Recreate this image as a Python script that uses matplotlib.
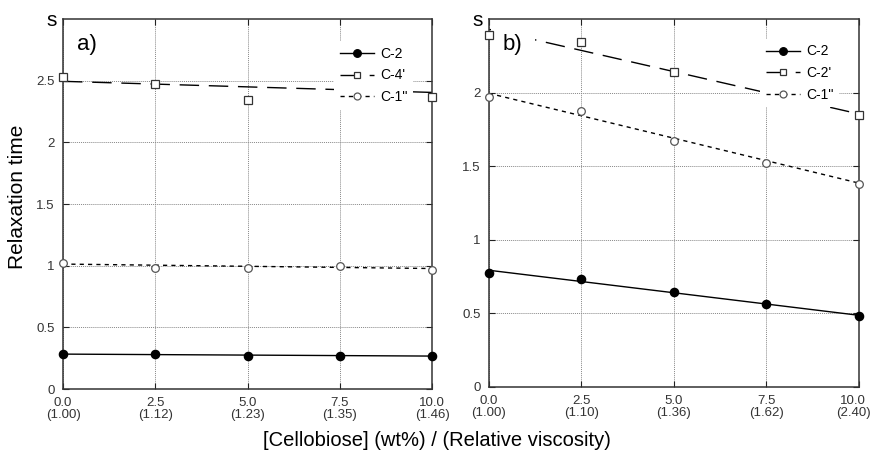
import matplotlib.pyplot as plt
import matplotlib.transforms as mtransforms
from matplotlib.lines import Line2D

plt.rcParams['font.family'] = ['Liberation Sans', 'DejaVu Sans']

# cellobiose concentration (wt%) and relative viscosity of each sample
conc = [0.0, 2.5, 5.0, 7.5, 10.0]
visc_a = ['1.00', '1.12', '1.23', '1.35', '1.46']
visc_b = ['1.00', '1.10', '1.36', '1.62', '2.40']

# panel a) relaxation times (s)
a_c2 = [0.282, 0.280, 0.271, 0.271, 0.266]
a_c4 = [2.53, 2.47, 2.345, 2.45, 2.37]
a_c1 = [1.02, 0.985, 0.978, 0.994, 0.962]
a_c2_fit = [0.283, 0.267]
a_c4_fit = [2.495, 2.405]
a_c1_fit = [1.013, 0.977]

# panel b) relaxation times (s)
b_c2 = [0.772, 0.736, 0.642, 0.565, 0.482]
b_c2p = [2.39, 2.342, 2.14, 2.0, 1.849]
b_c1 = [1.973, 1.876, 1.673, 1.52, 1.376]
b_c2_fit = [0.793, 0.487]
b_c2p_fit = [2.43, 1.855]
b_c1_fit = [1.995, 1.385]

fit_x = [conc[0], conc[-1]]

STYLES = {
    'filled': dict(marker='o', ms=6, mfc='black', mec='black', ls='-', dashes=None),
    'square': dict(marker='s', ms=5.5, mfc='white', mec='#333333', ls='--', dashes=(14, 7)),
    'circle': dict(marker='o', ms=5.5, mfc='white', mec='#555555', ls='--', dashes=(3, 3)),
}


def draw_series(ax, y, fit, style):
    st = STYLES[style]
    line, = ax.plot(fit_x, fit, color='black', lw=1.0, ls=st['ls'], zorder=2)
    if st['dashes']:
        line.set_dashes(st['dashes'])
    ax.plot(conc, y, ls='none', marker=st['marker'], ms=st['ms'],
            mfc=st['mfc'], mec=st['mec'], mew=0.9, clip_on=False, zorder=4)
    handle = Line2D([], [], color='black', lw=1.0, ls=st['ls'], marker=st['marker'],
                    ms=st['ms'] - 0.5, mfc=st['mfc'], mec=st['mec'], mew=0.9)
    if st['dashes']:
        handle.set_dashes(st['dashes'])
    return handle


def style_axes(ax, ymax, visc, tag):
    ax.set_xlim(0, 10)
    ax.set_ylim(0, ymax)
    ax.set_xticks(conc)
    ax.set_xticklabels([f'{c:.1f}\n({v})' for c, v in zip(conc, visc)],
                       fontsize=9.5, color='#333333', linespacing=1.0)
    yt = [i * 0.5 for i in range(int(round(ymax / 0.5)))]
    ax.set_yticks(yt)
    ax.set_yticklabels([f'{t:g}' for t in yt], fontsize=9.5, color='#333333')
    ax.tick_params(direction='in', length=4, width=0.8, top=True, right=True,
                   color='#222222', pad=6)
    ax.grid(True, color='#888888', ls=(0, (1, 1)), lw=0.7)
    ax.set_axisbelow(True)
    for sp in ax.spines.values():
        sp.set_linewidth(1.1)
        sp.set_color('#333333')
    ax.text(-0.016, 0.981, 's', transform=ax.transAxes, ha='right',
            va='baseline', fontsize=15)
    ax.text(0.038, 0.916, tag, transform=ax.transAxes, ha='left', va='baseline',
            fontsize=16, zorder=2.4,
            bbox=dict(facecolor='white', edgecolor='none', pad=9))


def add_legend(ax, handles, labels, anchor):
    ax.legend(handles, labels, loc='upper right', bbox_to_anchor=anchor,
              borderaxespad=0, fontsize=10, frameon=True, facecolor='white',
              edgecolor='none', framealpha=1, fancybox=False,
              handlelength=2.5, handletextpad=0.4, labelspacing=0.55)


fig = plt.figure(figsize=(8.73, 4.59), dpi=100)
ax1 = fig.add_axes([0.0722, 0.1525, 0.4227, 0.806])
ax2 = fig.add_axes([0.5601, 0.1569, 0.4238, 0.8017])

h = [draw_series(ax1, a_c2, a_c2_fit, 'filled'),
     draw_series(ax1, a_c4, a_c4_fit, 'square'),
     draw_series(ax1, a_c1, a_c1_fit, 'circle')]
style_axes(ax1, 3.0, visc_a, 'a)')
add_legend(ax1, h, ['C-2', "C-4'", "C-1''"], (0.948, 0.94))

h = [draw_series(ax2, b_c2, b_c2_fit, 'filled'),
     draw_series(ax2, b_c2p, b_c2p_fit, 'square'),
     draw_series(ax2, b_c1, b_c1_fit, 'circle')]
style_axes(ax2, 2.5, visc_b, 'b)')
add_legend(ax2, h, ['C-2', "C-2'", "C-1''"], (0.946, 0.946))

# keep the rightmost tick label inside the figure
last = ax2.get_xticklabels()[-1]
last.set_transform(last.get_transform() +
                   mtransforms.ScaledTranslation(-6 / 100, 0, fig.dpi_scale_trans))

fig.text(0.0206, 0.571, 'Relaxation time', rotation=90, ha='center',
         va='center', fontsize=15)
fig.text(0.5, 0.041, '[Cellobiose] (wt%) / (Relative viscosity)', ha='center',
         va='center', fontsize=14.5)

fig.savefig('out.png', dpi=100)
